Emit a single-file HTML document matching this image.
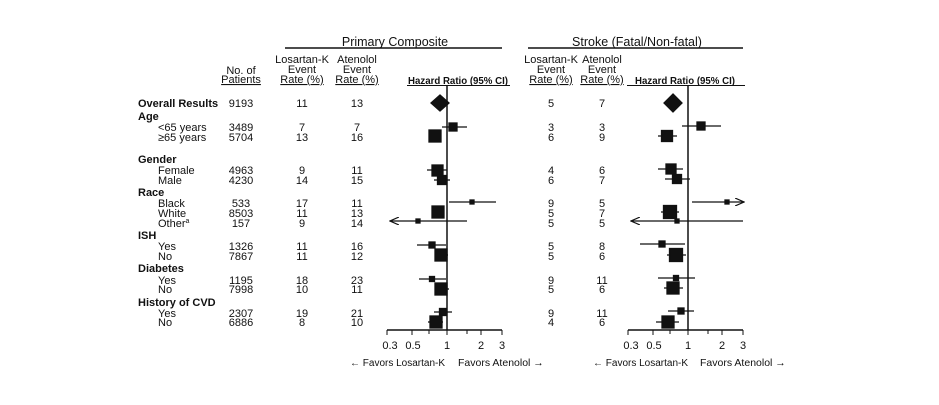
<!DOCTYPE html>
<html><head><meta charset="utf-8"><style>
body{margin:0;background:#fff}
svg text{font-family:"Liberation Sans","DejaVu Sans",sans-serif;font-size:11px;fill:#111}
.b{font-weight:bold}
</style></head><body>
<svg width="939" height="400" viewBox="0 0 939 400" xmlns="http://www.w3.org/2000/svg">
<defs>
<marker id="ar" markerWidth="10" markerHeight="8" refX="9" refY="4" orient="auto" markerUnits="userSpaceOnUse"><path d="M0,0 L9,4 L0,8" fill="none" stroke="#111" stroke-width="1.2"/></marker>
</defs>
<g stroke="#111" stroke-width="1.5">
<line x1="285" y1="48" x2="502" y2="48"/>
<line x1="528" y1="48" x2="743" y2="48"/>
</g>
<text x="395" y="46" text-anchor="middle" style="font-size:12.5px">Primary Composite</text>
<text x="637" y="46" text-anchor="middle" style="font-size:12.5px">Stroke (Fatal/Non-fatal)</text>
<g text-anchor="middle" style="font-size:10.5px">
<text x="241" y="74">No. of</text><text x="241" y="83" text-decoration="underline">Patients</text>
<text x="302" y="63">Losartan-K</text><text x="302" y="73">Event</text><text x="302" y="83" text-decoration="underline">Rate (%)</text>
<text x="357" y="63">Atenolol</text><text x="357" y="73">Event</text><text x="357" y="83" text-decoration="underline">Rate (%)</text>
<text x="551" y="63">Losartan-K</text><text x="551" y="73">Event</text><text x="551" y="83" text-decoration="underline">Rate (%)</text>
<text x="602" y="63">Atenolol</text><text x="602" y="73">Event</text><text x="602" y="83" text-decoration="underline">Rate (%)</text>
</g>
<text x="408" y="84" class="b" style="font-size:10px" textLength="100" lengthAdjust="spacingAndGlyphs">Hazard Ratio (95% CI)</text>
<text x="635" y="84" class="b" style="font-size:10px" textLength="100" lengthAdjust="spacingAndGlyphs">Hazard Ratio (95% CI)</text>
<line x1="407" y1="85.5" x2="510" y2="85.5" stroke="#111"/>
<line x1="627" y1="85.5" x2="745" y2="85.5" stroke="#111"/>
<g class="b" style="font-size:11px">
<text x="138" y="107" class="b">Overall Results</text>
<text x="138" y="120" class="b">Age</text>
<text x="138" y="163" class="b">Gender</text>
<text x="138" y="196" class="b">Race</text>
<text x="138" y="239" class="b">ISH</text>
<text x="138" y="272" class="b">Diabetes</text>
<text x="138" y="306" class="b">History of CVD</text>
</g>
<g>
<text x="158" y="131">&lt;65 years</text><text x="158" y="141">≥65 years</text>
<text x="158" y="174">Female</text><text x="158" y="184">Male</text>
<text x="158" y="207">Black</text><text x="158" y="217">White</text><text x="158" y="227">Other<tspan style="font-size:7px" dy="-4">a</tspan></text>
<text x="158" y="250">Yes</text><text x="158" y="260">No</text>
<text x="158" y="284">Yes</text><text x="158" y="293">No</text>
<text x="158" y="317">Yes</text><text x="158" y="326">No</text>
</g>
<g text-anchor="middle">
<text x="241" y="107">9193</text><text x="302" y="107">11</text><text x="357" y="107">13</text><text x="551" y="107">5</text><text x="602" y="107">7</text>
<text x="241" y="131">3489</text><text x="302" y="131">7</text><text x="357" y="131">7</text><text x="551" y="131">3</text><text x="602" y="131">3</text>
<text x="241" y="141">5704</text><text x="302" y="141">13</text><text x="357" y="141">16</text><text x="551" y="141">6</text><text x="602" y="141">9</text>
<text x="241" y="174">4963</text><text x="302" y="174">9</text><text x="357" y="174">11</text><text x="551" y="174">4</text><text x="602" y="174">6</text>
<text x="241" y="184">4230</text><text x="302" y="184">14</text><text x="357" y="184">15</text><text x="551" y="184">6</text><text x="602" y="184">7</text>
<text x="241" y="207">533</text><text x="302" y="207">17</text><text x="357" y="207">11</text><text x="551" y="207">9</text><text x="602" y="207">5</text>
<text x="241" y="217">8503</text><text x="302" y="217">11</text><text x="357" y="217">13</text><text x="551" y="217">5</text><text x="602" y="217">7</text>
<text x="241" y="227">157</text><text x="302" y="227">9</text><text x="357" y="227">14</text><text x="551" y="227">5</text><text x="602" y="227">5</text>
<text x="241" y="250">1326</text><text x="302" y="250">11</text><text x="357" y="250">16</text><text x="551" y="250">5</text><text x="602" y="250">8</text>
<text x="241" y="260">7867</text><text x="302" y="260">11</text><text x="357" y="260">12</text><text x="551" y="260">5</text><text x="602" y="260">6</text>
<text x="241" y="284">1195</text><text x="302" y="284">18</text><text x="357" y="284">23</text><text x="551" y="284">9</text><text x="602" y="284">11</text>
<text x="241" y="293">7998</text><text x="302" y="293">10</text><text x="357" y="293">11</text><text x="551" y="293">5</text><text x="602" y="293">6</text>
<text x="241" y="317">2307</text><text x="302" y="317">19</text><text x="357" y="317">21</text><text x="551" y="317">9</text><text x="602" y="317">11</text>
<text x="241" y="326">6886</text><text x="302" y="326">8</text><text x="357" y="326">10</text><text x="551" y="326">4</text><text x="602" y="326">6</text>
</g>
<g stroke="#111" stroke-width="1.5" fill="none">
<line x1="447" y1="86" x2="447" y2="330"/>
<line x1="387" y1="330" x2="502" y2="330"/>
<line x1="688" y1="86" x2="688" y2="330"/>
<line x1="628" y1="330" x2="743" y2="330"/>
</g>
<g stroke="#111" stroke-width="1">
<line x1="387" y1="330" x2="387" y2="335"/><line x1="412" y1="330" x2="412" y2="335"/><line x1="429" y1="330" x2="429" y2="334"/><line x1="447" y1="330" x2="447" y2="335"/><line x1="467" y1="330" x2="467" y2="334"/><line x1="481" y1="330" x2="481" y2="335"/><line x1="502" y1="330" x2="502" y2="335"/>
<line x1="628" y1="330" x2="628" y2="335"/><line x1="653" y1="330" x2="653" y2="335"/><line x1="670" y1="330" x2="670" y2="334"/><line x1="688" y1="330" x2="688" y2="335"/><line x1="708" y1="330" x2="708" y2="334"/><line x1="722" y1="330" x2="722" y2="335"/><line x1="743" y1="330" x2="743" y2="335"/>
</g>
<g text-anchor="middle">
<text x="390" y="349">0.3</text><text x="413" y="349">0.5</text><text x="447" y="349">1</text><text x="481" y="349">2</text><text x="502" y="349">3</text>
<text x="631" y="349">0.3</text><text x="654" y="349">0.5</text><text x="688" y="349">1</text><text x="722" y="349">2</text><text x="743" y="349">3</text>
</g>
<text x="350" y="366" style="font-size:10px">← Favors Losartan-K</text>
<text x="458" y="366" style="font-size:10.5px">Favors Atenolol →</text>
<text x="593" y="366" style="font-size:10px">← Favors Losartan-K</text>
<text x="700" y="366" style="font-size:10.5px">Favors Atenolol →</text>
<g stroke="#111" stroke-width="1.3" fill="#111">
<path d="M440,95 L449,103 L440,111 L431,103Z"/>
<line x1="442" y1="127" x2="467" y2="127"/><rect x="449" y="123" width="8" height="8"/>
<line x1="430" y1="136" x2="441" y2="136"/><rect x="429" y="130" width="12" height="12"/>
<line x1="427" y1="170" x2="447" y2="170"/><rect x="432" y="165" width="11" height="11"/>
<line x1="434" y1="180" x2="450" y2="180"/><rect x="437.5" y="175.5" width="9" height="9"/>
<line x1="449" y1="202" x2="496" y2="202"/><rect x="470" y="200" width="4" height="4"/>
<line x1="433" y1="212" x2="444" y2="212"/><rect x="432" y="206" width="12" height="12"/>
<line x1="467" y1="221" x2="390" y2="221" marker-end="url(#ar)"/><rect x="416" y="219" width="4" height="4"/>
<line x1="417" y1="245" x2="446" y2="245"/><rect x="429" y="242" width="6" height="6"/>
<line x1="435" y1="255" x2="448" y2="255"/><rect x="435" y="249" width="12" height="12"/>
<line x1="419" y1="279" x2="446" y2="279"/><rect x="429.5" y="276.5" width="5" height="5"/>
<line x1="435" y1="289" x2="449" y2="289"/><rect x="435" y="283" width="12" height="12"/>
<line x1="434" y1="312" x2="452" y2="312"/><rect x="439.5" y="308.5" width="7" height="7"/>
<line x1="428" y1="322" x2="443" y2="322"/><rect x="430" y="316" width="12" height="12"/>
</g>
<g stroke="#111" stroke-width="1.3" fill="#111">
<path d="M673,94 L682,103 L673,112 L664,103Z"/>
<line x1="682" y1="126" x2="721" y2="126"/><rect x="697" y="122" width="8" height="8"/>
<line x1="658" y1="136" x2="677" y2="136"/><rect x="661.5" y="130.5" width="11" height="11"/>
<line x1="658" y1="169" x2="683" y2="169"/><rect x="666" y="164" width="10" height="10"/>
<line x1="665" y1="179" x2="690" y2="179"/><rect x="672.5" y="174.5" width="9" height="9"/>
<line x1="692" y1="202" x2="744" y2="202" marker-end="url(#ar)"/><rect x="725" y="200" width="4" height="4"/>
<line x1="661" y1="212" x2="679" y2="212"/><rect x="663.5" y="205.5" width="13" height="13"/>
<line x1="743" y1="221" x2="631" y2="221" marker-end="url(#ar)"/><rect x="675" y="219" width="4" height="4"/>
<line x1="640" y1="244" x2="685" y2="244"/><rect x="659" y="241" width="6" height="6"/>
<line x1="667" y1="255" x2="686" y2="255"/><rect x="669.5" y="248.5" width="13" height="13"/>
<line x1="658" y1="278" x2="695" y2="278"/><rect x="673.5" y="275.5" width="5" height="5"/>
<line x1="664" y1="288" x2="683" y2="288"/><rect x="667" y="282" width="12" height="12"/>
<line x1="668" y1="311" x2="694" y2="311"/><rect x="678" y="308" width="6" height="6"/>
<line x1="656" y1="322" x2="679" y2="322"/><rect x="662" y="316" width="12" height="12"/>
</g>
</svg>
</body></html>
